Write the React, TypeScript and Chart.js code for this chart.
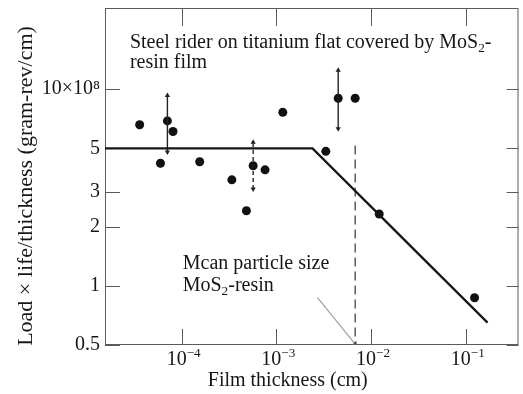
import React, { useEffect, useRef } from "react";
import { Chart, registerables } from "chart.js";

Chart.register(...registerables);

// ---- data ----
const thickness = [3.6e-5, 5.97e-5, 7.07e-5, 8.1e-5, 1.55e-4, 3.39e-4, 4.83e-4, 5.69e-4, 7.6e-4, 1.17e-3, 3.33e-3, 4.5e-3, 6.8e-3, 1.22e-2, 0.124];
const lifeRatio = [6.6, 4.2, 6.9, 6.1, 4.28, 3.46, 2.41, 4.08, 3.89, 7.63, 4.83, 9.0, 9.0, 2.32, 0.87];

const errX = [7.07e-5, 5.69e-4, 4.5e-3];
const errLow = [4.8, 3.11, 6.3];
const errHigh = [9.3, 5.38, 12.5];
const errDashed = [false, true, false];

const fitX = [1.55e-5, 2.41e-3, 0.17];
const fitY = [5, 5, 0.65];

const particleX = [6.8e-3, 6.8e-3];
const particleY = [5.18, 0.5];

const pointerX = [2.72e-3, 6.8e-3];
const pointerY = [0.87, 0.505];

const xTickValues = [1e-4, 1e-3, 1e-2, 1e-1];
const xTickBase = "10";
const xTickExponents = ["−4", "−3", "−2", "−1"];
const yTickValues = [0.5, 1, 2, 3, 5, 10];
const yTickLabels = ["0.5", "1", "2", "3", "5", "10×10⁸"];

const xMin = 1.55e-5;
const xMax = 0.361;
const yMin = 0.5;
const yMax = 25.9;

const titleLine1 = [
  { t: "Steel rider on titanium flat covered by MoS" },
  { t: "2", sub: true },
  { t: "-" },
];
const titleLine2 = [{ t: "resin film" }];
const titleAnchor = { x: 2.84e-5, y: 16.2 };
const noteLine1 = [{ t: "Mcan particle size" }];
const noteLine2 = [{ t: "MoS" }, { t: "2", sub: true }, { t: "-resin" }];
const noteAnchor = { x: 1.026e-4, y: 1.22 };
const xTitle = "Film thickness (cm)";
const yTitle = "Load × life/thickness (gram-rev/cm)";

const FONT = "'Liberation Serif', 'Times New Roman', serif";
const INK = "#161616";

type Part = { t: string; sub?: boolean; sup?: boolean };

function richWidth(ctx: CanvasRenderingContext2D, parts: Part[], size: number) {
  let w = 0;
  for (const p of parts) {
    const s = p.sub || p.sup ? size * 0.66 : size;
    ctx.font = `${s}px ${FONT}`;
    w += ctx.measureText(p.t).width;
  }
  return w;
}

function drawRich(ctx: CanvasRenderingContext2D, parts: Part[], x: number, y: number, size: number) {
  let cx = x;
  for (const p of parts) {
    const s = p.sub || p.sup ? size * 0.66 : size;
    ctx.font = `${s}px ${FONT}`;
    const dy = p.sub ? size * 0.2 : p.sup ? -size * 0.4 : 0;
    ctx.fillText(p.t, cx, y + dy);
    cx += ctx.measureText(p.t).width;
  }
}

const framePlugin = {
  id: "frameAndText",
  beforeDatasetsDraw(chart: any) {
    const { ctx, chartArea } = chart;
    const { left, right, top, bottom } = chartArea;
    const xs = chart.scales.x;
    const ys = chart.scales.y;
    ctx.save();
    ctx.strokeStyle = "#5a5a5a";
    ctx.lineWidth = 1;
    ctx.strokeRect(left + 0.5, top + 0.5, right - left - 1, bottom - top - 1);
    ctx.beginPath();
    for (const v of xTickValues) {
      const px = Math.round(xs.getPixelForValue(v)) + 0.5;
      ctx.moveTo(px, bottom);
      ctx.lineTo(px, bottom - 16);
      ctx.moveTo(px, top);
      ctx.lineTo(px, top + 18);
    }
    for (const v of yTickValues) {
      const py = Math.round(ys.getPixelForValue(v)) + 0.5;
      ctx.moveTo(left, py);
      ctx.lineTo(left + 15, py);
      ctx.moveTo(right, py);
      ctx.lineTo(right - 12, py);
    }
    ctx.stroke();
    ctx.restore();
  },
  afterDraw(chart: any) {
    const { ctx, chartArea } = chart;
    const xs = chart.scales.x;
    const ys = chart.scales.y;
    ctx.save();
    ctx.fillStyle = INK;
    ctx.textBaseline = "alphabetic";
    ctx.textAlign = "left";

    // x tick labels 10^n
    xTickValues.forEach((v, i) => {
      const parts: Part[] = [{ t: xTickBase }, { t: xTickExponents[i], sup: true }];
      const w = richWidth(ctx, parts, 20);
      const px = xs.getPixelForValue(v);
      drawRich(ctx, parts, px - w / 2 + 2, chartArea.bottom + 20, 20);
    });

    const tx = xs.getPixelForValue(titleAnchor.x);
    const ty = ys.getPixelForValue(titleAnchor.y);
    drawRich(ctx, titleLine1, tx, ty, 20);
    drawRich(ctx, titleLine2, tx, ty + 20, 20);
    const nx = xs.getPixelForValue(noteAnchor.x);
    const ny = ys.getPixelForValue(noteAnchor.y);
    drawRich(ctx, noteLine1, nx, ny, 20);
    drawRich(ctx, noteLine2, nx, ny + 22, 20);

    // axis titles
    ctx.font = `20px ${FONT}`;
    ctx.textAlign = "center";
    ctx.fillText(xTitle, (chartArea.left + chartArea.right) / 2 - 24, 386);
    ctx.font = `22px ${FONT}`;
    ctx.translate(32, 186);
    ctx.rotate(-Math.PI / 2);
    ctx.fillText(yTitle, 0, 0);
    ctx.restore();
  },
};

export default function App() {
  const ref = useRef<HTMLCanvasElement | null>(null);
  useEffect(() => {
    if (!ref.current) return;
    const errSets = errX.map((x, i) => ({
      data: [
        { x, y: errLow[i] },
        { x, y: errHigh[i] },
      ],
      showLine: true,
      borderColor: "#222",
      borderWidth: 1.4,
      borderDash: errDashed[i] ? [4, 3] : [],
      pointStyle: "triangle",
      pointRotation: [180, 0],
      pointRadius: 3,
      pointBackgroundColor: "#222",
      pointBorderColor: "#222",
      pointBorderWidth: 0,
    }));
    const chart = new Chart(ref.current, {
      type: "scatter",
      data: {
        datasets: [
          {
            data: fitX.map((x, i) => ({ x, y: fitY[i] })),
            showLine: true,
            borderColor: INK,
            borderWidth: 2.3,
            pointRadius: 0,
          },
          {
            data: particleX.map((x, i) => ({ x, y: particleY[i] })),
            showLine: true,
            borderColor: "#444",
            borderWidth: 1.3,
            borderDash: [9, 5],
            pointRadius: 0,
          },
          {
            data: pointerX.map((x, i) => ({ x, y: pointerY[i] })),
            showLine: true,
            borderColor: "#a0a0a0",
            borderWidth: 1.2,
            pointStyle: "triangle",
            pointRotation: 141,
            pointRadius: [0, 3.5],
            pointBackgroundColor: "#707070",
            pointBorderWidth: 0,
          },
          ...errSets,
          {
            data: thickness.map((x, i) => ({ x, y: lifeRatio[i] })),
            showLine: false,
            pointRadius: 4.5,
            pointBackgroundColor: "#111",
            pointBorderColor: "#111",
            pointBorderWidth: 0,
          },
        ] as any,
      },
      options: {
        animation: false,
        responsive: false,
        layout: { padding: { top: 8, right: 3, left: 0, bottom: 0 } },
        plugins: { legend: { display: false }, tooltip: { enabled: false } },
        scales: {
          x: {
            type: "logarithmic",
            min: xMin,
            max: xMax,
            afterFit: (s: any) => {
              s.height = 49;
              s.paddingLeft = 0;
              s.paddingRight = 0;
            },
            afterBuildTicks: (s: any) => {
              s.ticks = xTickValues.map((v) => ({ value: v }));
            },
            ticks: { display: false },
            grid: { display: false, drawTicks: false },
            border: { display: false },
          },
          y: {
            type: "logarithmic",
            min: yMin,
            max: yMax,
            afterFit: (s: any) => {
              s.width = 105;
              s.paddingTop = 0;
              s.paddingBottom = 0;
            },
            afterBuildTicks: (s: any) => {
              s.ticks = yTickValues.map((v) => ({ value: v }));
            },
            ticks: {
              autoSkip: false,
              padding: 5,
              color: INK,
              font: { family: FONT, size: 20 },
              callback: (_v: any, i: number) => yTickLabels[i],
            },
            grid: { display: false, drawTicks: false },
            border: { display: false },
          },
        },
      } as any,
      plugins: [framePlugin],
    });
    return () => chart.destroy();
  }, []);
  return (
    <div style={{ position: "fixed", left: 0, top: 0, width: 523, height: 394, background: "#fff" }}>
      <canvas ref={ref} width={523} height={394} style={{ display: "block" }} />
    </div>
  );
}
